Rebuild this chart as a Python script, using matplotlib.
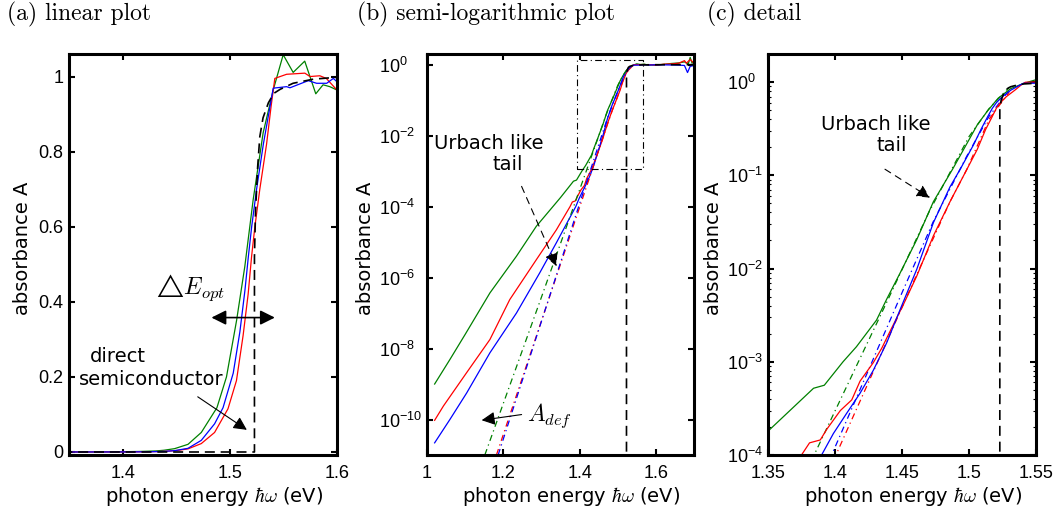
import matplotlib
matplotlib.use('Agg')
import matplotlib.pyplot as plt
from matplotlib.ticker import FixedLocator, FuncFormatter, LogLocator, NullFormatter

plt.rcParams['font.family'] = 'Liberation Sans'
plt.rcParams['mathtext.fontset'] = 'cm'

# ---------------- data ----------------
green_E = [1.02, 1.06, 1.10, 1.165, 1.2345, 1.2867, 1.35, 1.384, 1.392, 1.406, 1.416, 1.431,
           1.4386, 1.4485, 1.461, 1.4734, 1.488, 1.4969, 1.5063, 1.514, 1.5218, 1.5311, 1.5405,
           1.5498, 1.5591, 1.5699, 1.5802, 1.587, 1.5933, 1.60, 1.62, 1.64, 1.66, 1.675, 1.685,
           1.69, 1.695, 1.70]
green_A = [1.0e-9, 4.9e-9, 2.5e-8, 3.7e-7, 4.0e-6, 2.8e-5, 1.8e-4, 5.2e-4, 5.6e-4, 1.0e-3, 1.45e-3,
           2.8e-3, 4.7e-3, 8.9e-3, 0.0204, 0.052, 0.118, 0.20, 0.35, 0.494, 0.672, 0.85, 0.964,
           1.058, 1.011, 1.041, 0.954, 0.978, 0.973, 0.964, 1.02, 1.08, 1.12, 1.2, 1.05, 1.6, 1.1, 1.3]

red_E = [1.02, 1.043, 1.104, 1.165, 1.217, 1.2867, 1.339, 1.375, 1.381, 1.389, 1.394, 1.404, 1.4125,
         1.4187, 1.4286, 1.4349, 1.4423, 1.451, 1.461, 1.4734, 1.4858, 1.4983, 1.5062, 1.5124,
         1.5171, 1.5203, 1.5234, 1.528, 1.5343, 1.5385, 1.542, 1.553, 1.570, 1.5748, 1.584, 1.590,
         1.60, 1.62, 1.64, 1.66, 1.675, 1.68, 1.69, 1.70]
red_A = [9.5e-11, 2.4e-10, 2.1e-9, 1.8e-8, 2.4e-7, 3.2e-6, 2.2e-5, 1.0e-4, 1.35e-4, 1.45e-4, 1.9e-4,
         3.0e-4, 3.9e-4, 6.2e-4, 9.8e-4, 1.4e-3, 2.3e-3, 4.1e-3, 8.3e-3, 0.0224, 0.052, 0.115, 0.19,
         0.31, 0.42, 0.52, 0.60, 0.70, 0.82, 0.92, 0.995, 1.006, 1.009, 1.0, 1.002, 0.995, 0.964,
         1.03, 1.05, 1.1, 1.3, 1.1, 1.4, 1.1]

blue_E = [1.02, 1.06, 1.104, 1.165, 1.2345, 1.2954, 1.339, 1.390, 1.3988, 1.4087, 1.4187, 1.4286,
          1.4386, 1.4485, 1.461, 1.4734, 1.4858, 1.4937, 1.5032, 1.5094, 1.5141, 1.5173, 1.5204,
          1.525, 1.5313, 1.5375, 1.5405, 1.553, 1.5561, 1.5732, 1.581, 1.5904, 1.5966, 1.60, 1.62,
          1.64, 1.66, 1.675, 1.683, 1.69, 1.70]
blue_A = [2.2e-11, 1e-10, 5.6e-10, 7.6e-9, 1e-7, 1.35e-6, 9.5e-6, 1e-4, 1.7e-4, 2.8e-4, 4.6e-4,
          8.1e-4, 1.6e-3, 3.6e-3, 9.8e-3, 0.031, 0.075, 0.118, 0.21, 0.32, 0.43, 0.52, 0.60, 0.70,
          0.82, 0.92, 0.969, 0.973, 0.97, 0.989, 0.982, 0.982, 0.995, 0.986, 0.99, 0.98, 0.97, 0.95,
          0.6, 0.9, 0.95]

# Urbach-type fits (dash-dot)
green_fit_E = [1.1516, 1.30, 1.44, 1.47, 1.50, 1.515, 1.53]
green_fit_A = [1e-11, 2.8e-7, 4.8e-3, 0.04, 0.26, 0.52, 0.88]
red_fit_E = [1.182, 1.40, 1.46, 1.4858, 1.4983, 1.515, 1.53]
red_fit_A = [1e-11, 9.5e-5, 8e-3, 0.052, 0.115, 0.40, 0.78]
blue_fit_E = [1.1865, 1.3975, 1.45, 1.4734, 1.4983, 1.515, 1.53]
blue_fit_A = [1e-11, 1e-4, 5.5e-3, 0.032, 0.16, 0.43, 0.82]

# ideal direct semiconductor (black dashed)
direct_E = [1.0, 1.523, 1.523, 1.524, 1.526, 1.528, 1.531, 1.536, 1.541, 1.547, 1.559, 1.578, 1.60, 1.70]
direct_A = [0.0, 0.0, 0.52, 0.64, 0.76, 0.84, 0.89, 0.93, 0.955, 0.966, 0.982, 0.993, 0.998, 1.0]

# zoom box in (b)
box_E = [1.393, 1.566]
box_A = [1.15e-3, 1.38]

GREEN, RED, BLUE = '#008000', '#ff0000', '#0000ff'
series = [(green_E, green_A, GREEN), (red_E, red_A, RED), (blue_E, blue_A, BLUE)]
fits = [(green_fit_E, green_fit_A, GREEN), (red_fit_E, red_fit_A, RED), (blue_fit_E, blue_fit_A, BLUE)]

LABEL_FONT = 'DejaVu Sans'
W, H = 1064, 514
fig = plt.figure(figsize=(W / 100, H / 100), dpi=100)
axa = fig.add_axes([69 / W, 59 / H, 268 / W, 401 / H])
axb = fig.add_axes([427 / W, 59 / H, 267 / W, 401 / H])
axc = fig.add_axes([768 / W, 59 / H, 268 / W, 401 / H])


def style(ax, ylabel_x):
    for s in ax.spines.values():
        s.set_linewidth(2.2)
    ax.tick_params(which='major', direction='in', length=4, width=1.5, top=True, right=True,
                   labelsize=13, pad=4)
    ax.tick_params(axis='x', which='major', pad=7)
    ax.tick_params(which='minor', direction='in', length=2, width=0.8, top=True, right=True)
    ax.set_xlabel(r'photon energy $\hbar\omega$ (eV)', fontsize=14, family=LABEL_FONT)
    ax.set_ylabel('absorbance A', fontsize=14, family=LABEL_FONT)
    ax.xaxis.set_label_coords(0.54, -0.075)
    ax.yaxis.set_label_coords(ylabel_x, 0.515)


gfmt = FuncFormatter(lambda v, p: '{:g}'.format(round(v, 3)))

# ---------------- (a) linear ----------------
for E, A, c in series:
    axa.plot(E, A, color=c, lw=0.9)
axa.plot(direct_E, direct_A, color='k', lw=1.2, dashes=(6, 3.5))
axa.set_xlim(1.35, 1.6)
axa.set_ylim(-0.008, 1.06)
axa.xaxis.set_major_locator(FixedLocator([1.4, 1.5, 1.6]))
axa.yaxis.set_major_locator(FixedLocator([0, 0.2, 0.4, 0.6, 0.8, 1.0]))
axa.xaxis.set_major_formatter(gfmt)
axa.yaxis.set_major_formatter(gfmt)
style(axa, -0.138)

axa.text(1.4617, 0.437, r'$\triangle\!E_{opt}$', fontsize=17, ha='center', va='center')
axa.annotate('', xy=(1.5420, 0.358), xytext=(1.4829, 0.358),
             arrowprops=dict(arrowstyle='<|-|>', color='k', lw=1.2, mutation_scale=22,
                             shrinkA=0, shrinkB=0))
axa.text(1.3953, 0.254, 'direct', fontsize=14, family=LABEL_FONT, ha='center', va='center')
axa.text(1.4271, 0.193, 'semiconductor', fontsize=14, family=LABEL_FONT, ha='center', va='center')
axa.annotate('', xy=(1.5159, 0.059), xytext=(1.4701, 0.147),
             arrowprops=dict(arrowstyle='-|>', color='k', lw=0.8, mutation_scale=20,
                             shrinkA=0, shrinkB=0))

# ---------------- (b) semi-log ----------------
for E, A, c in series:
    axb.plot(E, A, color=c, lw=0.9)
for E, A, c in fits:
    axb.plot(E, A, color=c, lw=0.9, dashes=(5, 3, 1, 3))
axb.plot(direct_E, direct_A, color='k', lw=1.2, dashes=(6, 3.5))
bx = [box_E[0], box_E[1], box_E[1], box_E[0], box_E[0]]
by = [box_A[0], box_A[0], box_A[1], box_A[1], box_A[0]]
axb.plot(bx, by, color='k', lw=0.8, dashes=(6, 3, 1, 3))
axb.set_yscale('log')
axb.set_xlim(1.0, 1.7)
axb.set_ylim(1e-11, 2)
axb.xaxis.set_major_locator(FixedLocator([1.0, 1.2, 1.4, 1.6]))
axb.xaxis.set_major_formatter(gfmt)
axb.yaxis.set_major_locator(FixedLocator([1e-10, 1e-8, 1e-6, 1e-4, 1e-2, 1e0]))
axb.yaxis.set_minor_locator(FixedLocator([]))
style(axb, -0.195)
axb.tick_params(axis='y', which='major', pad=34.5)
for lab in axb.get_yticklabels():
    lab.set_horizontalalignment('left')

axb.text(1.162, 10 ** -2.23, 'Urbach like', fontsize=14, family=LABEL_FONT, ha='center', va='center')
axb.text(1.2107, 10 ** -2.82, 'tail', fontsize=14, family=LABEL_FONT, ha='center', va='center')
axb.annotate('', xy=(1.3398, 10 ** -5.68), xytext=(1.248, 10 ** -3.43),
             arrowprops=dict(arrowstyle='-|>', color='k', lw=0.8, linestyle=(0, (6, 5)),
                             mutation_scale=20, shrinkA=0, shrinkB=0))
axb.text(1.261, 10 ** -9.89, r'$A_{def}$', fontsize=17, ha='left', va='center')
axb.annotate('', xy=(1.1433, 10 ** -10.02), xytext=(1.248, 10 ** -9.86),
             arrowprops=dict(arrowstyle='-|>', color='k', lw=0.8, mutation_scale=20,
                             shrinkA=0, shrinkB=0))

# ---------------- (c) detail ----------------
for E, A, c in fits:
    axc.plot(E, A, color=c, lw=0.9, dashes=(5, 3, 1, 3))
for E, A, c in series:
    axc.plot(E, A, color=c, lw=0.9)
axc.plot(direct_E, direct_A, color='k', lw=1.2, dashes=(6, 3.5))
axc.set_yscale('log')
axc.set_xlim(1.35, 1.55)
axc.set_ylim(1e-4, 2)
axc.xaxis.set_major_locator(FixedLocator([1.35, 1.4, 1.45, 1.5, 1.55]))
axc.xaxis.set_major_formatter(gfmt)
axc.yaxis.set_major_locator(FixedLocator([1e-4, 1e-3, 1e-2, 1e-1, 1e0]))
axc.yaxis.set_minor_locator(LogLocator(base=10, subs=range(2, 10)))
axc.yaxis.set_minor_formatter(NullFormatter())
style(axc, -0.169)
axc.tick_params(axis='y', which='major', pad=29.5)
for lab in axc.get_yticklabels():
    lab.set_horizontalalignment('left')

axc.text(1.4306, 10 ** -0.452, 'Urbach like', fontsize=14, family=LABEL_FONT, ha='center', va='center')
axc.text(1.4422, 10 ** -0.685, 'tail', fontsize=14, family=LABEL_FONT, ha='center', va='center')
axc.annotate('', xy=(1.4709, 10 ** -1.24), xytext=(1.4373, 10 ** -0.935),
             arrowprops=dict(arrowstyle='-|>', color='k', lw=0.8, linestyle=(0, (6, 5)),
                             mutation_scale=20, shrinkA=0, shrinkB=0))

# ---------------- panel titles ----------------
for x, t in [(7, '(a) linear plot'), (357, '(b) semi-logarithmic plot'), (707, '(c) detail')]:
    fig.text(x / W, 1 - 20.7 / H, t, fontsize=17, family='cmr10', ha='left', va='baseline')

fig.savefig('out.png', dpi=100)
